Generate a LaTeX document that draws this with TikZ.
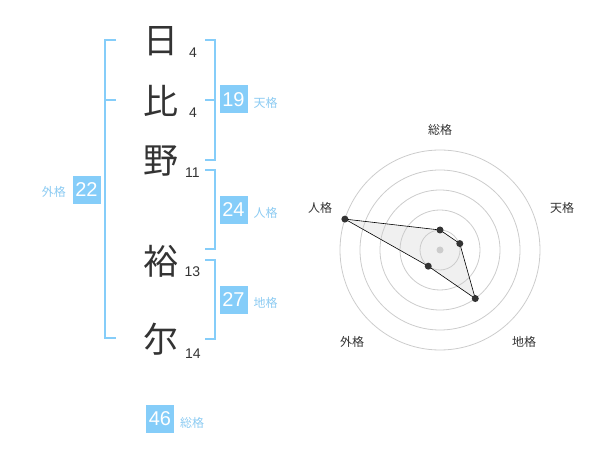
\documentclass[tikz,border=0pt]{standalone}
\usepackage{fontspec}
\usetikzlibrary{calc}
\newfontfamily\cjk{Noto Sans CJK JP}
\newfontfamily\numf{Liberation Sans}
\definecolor{bblue}{HTML}{85CDF9}
\definecolor{lblue}{HTML}{8CCBF2}
\definecolor{dk}{HTML}{333333}
\definecolor{ring}{HTML}{CCCCCC}
\begin{document}
\begin{tikzpicture}[x=1pt,y=-1pt,
  kanji/.style={font=\cjk\fontsize{35}{35}\selectfont, text=dk, inner sep=0pt},
  strokes/.style={font=\numf\fontsize{14}{14}\selectfont, text=dk, inner sep=0pt},
  valbox/.style={fill=bblue, text=white, font=\numf\fontsize{20}{20}\selectfont, minimum width=28, minimum height=28, inner sep=0pt},
  vlabel/.style={font=\cjk\fontsize{12}{12}\selectfont, text=lblue, inner sep=0pt},
  brk/.style={draw=bblue, line width=2pt},
  axlabel/.style={font=\cjk\fontsize{12}{12}\selectfont, text=dk, inner sep=0pt},
  ringc/.style={draw=ring, line width=0.8pt},
  dot/.style={circle, fill=dk, inner sep=0pt, minimum size=7}]
\useasboundingbox (0,0) rectangle (600,470);
% characters
\node[kanji] (c1) at (160.5,41) {日};
\node[kanji] (c2) at (160.5,101) {比};
\node[kanji] (c3) at (160.5,161) {野};
\node[kanji] (c4) at (160.5,261) {裕};
\node[kanji] (c5) at (160.5,339) {尔};
\node[strokes] (s1) at (193,53) {4};
\node[strokes] (s2) at (193,113) {4};
\node[strokes] (s3) at (192.5,173) {11};
\node[strokes] (s4) at (192.5,272) {13};
\node[strokes] (s5) at (193,354) {14};
% brackets
\coordinate (l1) at (116,40); \coordinate (l2) at (105,40);
\coordinate (l3) at (105,338); \coordinate (l4) at (116,338);
\coordinate (lm1) at (105,100); \coordinate (lm2) at (116,100);
\draw[brk] (l1) -- (l2) -- (l3) -- (l4);
\draw[brk] (lm1) -- (lm2);
\coordinate (t1) at (205,40); \coordinate (t2) at (215,40);
\coordinate (t3) at (215,160); \coordinate (t4) at (205,160);
\coordinate (tm1) at (215,100); \coordinate (tm2) at (205,100);
\draw[brk] (t1) -- (t2) -- (t3) -- (t4);
\draw[brk] (tm1) -- (tm2);
\coordinate (j1) at (205,170); \coordinate (j2) at (215,170);
\coordinate (j3) at (215,249); \coordinate (j4) at (205,249);
\draw[brk] (j1) -- (j2) -- (j3) -- (j4);
\coordinate (g1) at (205,260); \coordinate (g2) at (215,260);
\coordinate (g3) at (215,339); \coordinate (g4) at (205,339);
\draw[brk] (g1) -- (g2) -- (g3) -- (g4);
% value boxes
\node[valbox] (b19) at (233.5,99.5) {19};
\node[vlabel, anchor=west] (n19) at (253.5,103) {天格};
\node[valbox] (b24) at (233.5,210) {24};
\node[vlabel, anchor=west] (n24) at (253.5,213) {人格};
\node[valbox] (b27) at (233.5,300) {27};
\node[vlabel, anchor=west] (n27) at (253.5,303) {地格};
\node[valbox] (b22) at (86.5,190) {22};
\node[vlabel, anchor=east] (n22) at (66,192) {外格};
\node[valbox] (b46) at (160,419) {46};
\node[vlabel, anchor=west] (n46) at (180,423) {総格};
% radar
\coordinate (ctr) at (440,250);
\foreach \r in {20,40,60,80,100} \draw[ringc] (ctr) circle[radius=\r];
\fill[ring] (ctr) circle[radius=3.5];
\coordinate (pA) at ($(ctr)+(0,-20)$);
\coordinate (pB) at ($(ctr)+({20.8*cos(18)},{-20.8*sin(18)})$);
\coordinate (pC) at ($(ctr)+({60*cos(54)},{60*sin(54)})$);
\coordinate (pD) at ($(ctr)+({-20*cos(54)},{20*sin(54)})$);
\coordinate (pE) at ($(ctr)+({-100*cos(18)},{-100*sin(18)})$);
\draw[fill=gray!40, fill opacity=0.3, draw=black, line width=0.6pt] (pA) -- (pB) -- (pC) -- (pD) -- (pE) -- cycle;
\foreach \p in {pA,pB,pC,pD,pE} \node[dot] at (\p) {};
\node[axlabel] (a1) at (440,130) {総格};
\node[axlabel] (a2) at (562,208) {天格};
\node[axlabel] (a3) at (320,208) {人格};
\node[axlabel] (a4) at (352,342) {外格};
\node[axlabel] (a5) at (524,342) {地格};
\end{tikzpicture}
\end{document}
